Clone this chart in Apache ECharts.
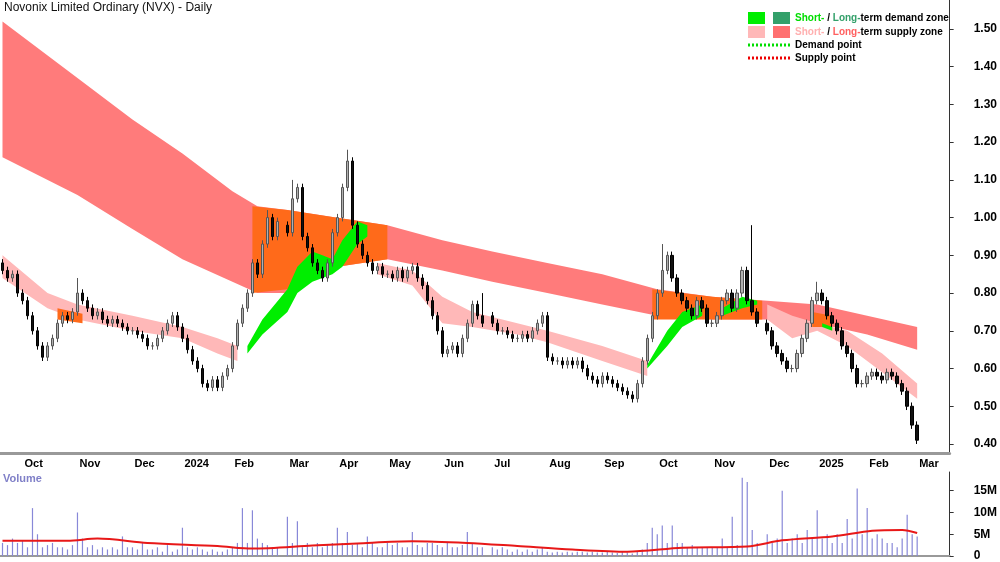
<!DOCTYPE html>
<html><head><meta charset="utf-8">
<script src="https://cdn.jsdelivr.net/npm/echarts@6/dist/echarts.min.js"></script>
<style>html,body{margin:0;padding:0;background:#fff}#c{width:1000px;height:562px}</style>
</head><body><div id="c"></div>
<script>
// ---- data ----
const holidays = ['2023-12-25','2023-12-26','2024-01-01','2024-01-26','2024-03-29','2024-04-01','2024-04-25','2024-06-10','2024-12-25','2024-12-26','2025-01-01','2025-01-27'];
const months = ['2023-09','2023-10','2023-11','2023-12','2024-01','2024-02','2024-03','2024-04','2024-05','2024-06','2024-07','2024-08','2024-09','2024-10','2024-11','2024-12','2025-01','2025-02'];
const closesByMonth = [
 [0.86,0.84,0.85,0.80],
 [0.78,0.74,0.70,0.66,0.63,0.66,0.68,0.72,0.74,0.73,0.75],
 [0.80,0.78,0.76,0.74,0.75,0.73,0.72,0.73,0.72,0.71,0.70],
 [0.70,0.69,0.68,0.66,0.66,0.68,0.70,0.72,0.74,0.71],
 [0.68,0.65,0.62,0.60,0.56,0.55,0.57,0.55,0.58,0.60,0.63],
 [0.66,0.72,0.76,0.80,0.88,0.85,0.93,1.00,0.95,0.99],
 [0.96,1.05,1.08,0.95,0.92,0.88,0.86,0.84,0.88,0.96],
 [1.00,1.08,1.15,0.98,0.93,0.90,0.88,0.86,0.87,0.85,0.84],
 [0.85,0.84,0.86,0.84,0.86,0.87,0.84,0.82,0.78,0.74,0.70,0.66],
 [0.64,0.65,0.66,0.64,0.68,0.72,0.77,0.74,0.72],
 [0.72,0.70,0.70,0.69,0.68,0.68,0.69,0.68,0.70,0.72,0.74,0.72],
 [0.63,0.62,0.62,0.61,0.62,0.61,0.62,0.60,0.58,0.57,0.56],
 [0.58,0.57,0.56,0.55,0.54,0.53,0.52,0.56,0.62,0.68,0.74],
 [0.80,0.86,0.90,0.84,0.80,0.78,0.76,0.74,0.78,0.76,0.72,0.70],
 [0.72,0.74,0.78,0.80,0.76,0.80,0.86,0.78,0.75,0.72],
 [0.70,0.66,0.64,0.62,0.60,0.60,0.64,0.68,0.72,0.78],
 [0.80,0.78,0.74,0.72,0.70,0.66,0.64,0.60,0.56,0.56,0.57],
 [0.58,0.59,0.58,0.57,0.59,0.58,0.56,0.54,0.50,0.45,0.41]
];
const highSpikes = [['2023-11-01',0.84],['2024-02-20',1.02],['2024-03-05',1.10],['2024-04-08',1.18],['2024-06-26',0.80],['2024-10-04',0.93],['2024-11-22',0.98],['2025-01-02',0.83]];
const volumeByMonth = [
 [3,2.5,4,3],
 [3.5,2,11,5,2,2.5,3,2,2,1.5,2.5],
 [10,4,2,2.5,1.5,2,1.5,2,1.5,4.5,2],
 [2,1.5,3,1.5,1.5,2,1,2.5,1,1.5],
 [6.5,2,1.5,2,1.5,1,1.5,1,1,1.5,2],
 [2,3,11,3,10.5,4,3,2.5,2,2],
 [9,3,8,2,3,2,3,2,2.5,3],
 [6.5,3,5.5,2.5,3,2,4.5,3,2,2,2.5],
 [3,2.5,3,2,2,5.5,2.5,2,3,3,2.5,2],
 [2,3,2,2,2.5,5.5,3,2,2],
 [2,1.5,2,1.5,1,1.5,1,1.5,1,1.5,2,1],
 [1,0.8,1,0.8,1,0.8,1,1,0.8,1,0.8],
 [0.8,1,0.8,0.7,1,0.8,0.6,1,1.5,3,6.5],
 [5,7,3,7,3,3,2,2.5,2,2,2,2.5],
 [2,2,4,2,9,2.5,18,17,6,3],
 [5,3,4,15,3,4,5,3,6,4],
 [10.5,4,5,3,5,3,8.5,4,15.5,5,6],
 [11,4,5,4,3,3,2,4,9.5,5,4.5]
];
const volumeMA = [['2023-09-20',3.5],['2023-10-25',3.5],['2023-11-10',4.0],['2023-12-10',3.0],['2024-01-20',2.3],['2024-02-12',1.7],['2024-03-15',2.4],['2024-04-15',2.9],['2024-05-15',3.4],['2024-06-15',3.0],['2024-07-15',2.3],['2024-08-15',1.5],['2024-09-15',1.0],['2024-10-15',1.9],['2024-11-20',2.2],['2024-12-10',3.6],['2025-01-10',4.5],['2025-02-05',5.8],['2025-02-20',6.0],['2025-02-28',5.3]];
const longSupply = [['2023-09-20',1.16,1.52],['2023-11-01',1.06,1.37],['2023-12-01',0.97,1.26],['2024-01-02',0.89,1.17],['2024-02-01',0.83,1.07],['2024-02-15',0.80,1.03],['2024-03-01',0.80,1.02],['2024-04-02',0.87,1.00],['2024-05-01',0.89,0.98],['2024-06-03',0.86,0.94],['2024-07-01',0.83,0.91],['2024-08-01',0.80,0.88],['2024-09-02',0.77,0.85],['2024-10-01',0.74,0.81],['2024-11-01',0.73,0.79],['2024-12-02',0.73,0.78],['2025-01-02',0.72,0.77],['2025-02-03',0.69,0.74],['2025-02-28',0.65,0.71]];
const shortSupplyA = [['2023-09-20',0.84,0.90],['2023-10-16',0.76,0.80],['2023-11-01',0.73,0.77],['2023-12-01',0.70,0.74],['2024-01-02',0.68,0.71],['2024-01-22',0.64,0.68],['2024-02-05',0.62,0.66]];
const shortSupplyB = [['2024-04-25',0.85,0.88],['2024-05-15',0.82,0.86],['2024-06-03',0.72,0.79],['2024-06-20',0.71,0.75],['2024-07-15',0.69,0.72],['2024-08-01',0.67,0.70],['2024-09-02',0.62,0.66],['2024-09-25',0.58,0.62]];
const shortSupplyC = [['2024-12-02',0.73,0.77],['2024-12-16',0.68,0.74],['2025-01-02',0.70,0.72],['2025-01-20',0.66,0.70],['2025-02-10',0.59,0.64],['2025-02-28',0.52,0.56]];
const overlapZones = [
 [['2024-02-12',0.80,1.03],['2024-03-01',0.81,1.02],['2024-04-02',0.87,1.00],['2024-05-01',0.89,0.98]],
 [['2024-09-30',0.73,0.81],['2024-11-01',0.73,0.79],['2024-11-29',0.73,0.78]],
 [['2023-10-20',0.73,0.76],['2023-11-03',0.72,0.745]],
 [['2024-12-30',0.71,0.75],['2025-01-10',0.71,0.74]]
];
const demandZones = [
 [['2024-02-08',0.64,0.66],['2024-02-16',0.69,0.73],['2024-03-01',0.75,0.81],['2024-03-08',0.80,0.87],['2024-03-15',0.83,0.91],['2024-03-22',0.84,0.90],['2024-03-28',0.85,0.89],['2024-04-05',0.87,0.94],['2024-04-12',0.93,0.99],['2024-04-19',0.95,0.98]],
 [['2024-09-26',0.60,0.61],['2024-10-07',0.66,0.70],['2024-10-16',0.71,0.75],['2024-10-28',0.74,0.77]],
 [['2024-11-07',0.74,0.76],['2024-11-18',0.76,0.79],['2024-11-26',0.77,0.78]],
 [['2025-01-06',0.71,0.72],['2025-01-13',0.70,0.71]]
];
const priceTicks = [0.40,0.50,0.60,0.70,0.80,0.90,1.00,1.10,1.20,1.30,1.40,1.50];
const volTicks = [0,5,10,15];

// ---- categories: every other trading day ----
const fmt = d => d.toISOString().slice(0,10);
const cats = [];
{ let d = new Date(Date.UTC(2023,8,20)); let k = 0;
  while (cats.length < 190) { const w = d.getUTCDay(); const s = fmt(d);
    if (w>0 && w<6 && holidays.indexOf(s)<0) { if (k%2===0) cats.push(s); k++; }
    d.setUTCDate(d.getUTCDate()+1); } }
const idxOf = s => { for (let i=0;i<cats.length;i++) if (cats[i]>=s) return i; return cats.length-1; };
const firstOfMonth = m => cats.findIndex(c => c.slice(0,7)===m);

const closes = new Array(cats.length).fill(null), vols = new Array(cats.length).fill(null);
months.forEach((m,mi)=>{ const s = firstOfMonth(m); const st = s<0?0:s;
  closesByMonth[mi].forEach((v,j)=>{ closes[st+j]=v; });
  volumeByMonth[mi].forEach((v,j)=>{ vols[st+j]=v; }); });
const lastIdx = closes.reduce((a,v,i)=>v!=null?i:a,0);
const highs = {}; highSpikes.forEach(([d,h])=>highs[idxOf(d)]=h);
const candles = [];
for (let i=0;i<=lastIdx;i++){ const c = closes[i]; const o = i>0 && closes[i-1]!=null ? closes[i-1] : c+0.02;
  const hi = highs[i]!=null ? Math.max(highs[i],o,c) : Math.max(o,c)+0.01; candles.push([o,c,Math.min(o,c)-0.01,hi]); }
const volData = vols.slice(0,lastIdx+1);
const maData = volumeMA.map(([d,v])=>[idxOf(d),v]);

const monthIdx = new Set(); { let pm=''; cats.forEach((c,i)=>{ const m=c.slice(0,7); if(m!==pm){ if(i>0) monthIdx.add(i); pm=m; } }); }
const mNames = ['Jan','Feb','Mar','Apr','May','Jun','Jul','Aug','Sep','Oct','Nov','Dec'];

function band(pts, color, z){
  return { type:'custom', xAxisIndex:0, yAxisIndex:0, z: z, silent:true, data:[0],
    renderItem:(p,api)=>{ const up=[],lo=[];
      pts.forEach(([d,l,h])=>{ const i=idxOf(d); up.push(api.coord([i,h])); lo.push(api.coord([i,l])); });
      return { type:'polygon', shape:{points: up.concat(lo.reverse())}, style:{fill:color} }; } };
}
const series = [];
series.push(band(longSupply,'#ff7b7b',1));
[shortSupplyA,shortSupplyB,shortSupplyC].forEach(b=>series.push(band(b,'#ffb8b8',2)));
overlapZones.forEach(b=>series.push(band(b,'#ff6a1a',3)));
demandZones.forEach(b=>series.push(band(b,'#00ee00',4)));
series.push({ type:'candlestick', xAxisIndex:0, yAxisIndex:0, z:10, data:candles, barWidth:3,
  itemStyle:{ color:'#b0b0b0', color0:'#111', borderColor:'#555', borderColor0:'#000', borderWidth:1 } });
series.push({ type:'bar', xAxisIndex:1, yAxisIndex:1, data:volData, barWidth:1.2, itemStyle:{color:'#8888d8'} });
series.push({ type:'line', xAxisIndex:1, yAxisIndex:1, data:maData, showSymbol:false, smooth:0.3, lineStyle:{color:'#e81818',width:2} });

const chart = echarts.init(document.getElementById('c'));
const F = 'Liberation Sans';
chart.setOption({
  animation:false,
  textStyle:{fontFamily:F},
  grid:[{left:0,right:46,top:0,bottom:109},{left:0,right:46,top:472,bottom:3}],
  xAxis:[
    { type:'category', gridIndex:0, data:cats, boundaryGap:true,
      axisLine:{lineStyle:{color:'#999',width:3}}, splitLine:{show:false},
      axisTick:{interval:(i)=>monthIdx.has(i), length:4, lineStyle:{color:'#333'}, alignWithLabel:true},
      axisLabel:{interval:(i)=>monthIdx.has(i), align:'left', padding:[0,0,0,2], margin:5, color:'#000', fontSize:11, fontWeight:'bold',
        formatter:(v)=>{ const m=+v.slice(5,7); return m===1? v.slice(0,4) : mNames[m-1]; } } },
    { type:'category', gridIndex:1, data:cats, boundaryGap:true, position:'top',
      axisLine:{lineStyle:{color:'#999',width:2}}, axisTick:{show:false}, axisLabel:{show:false} }
  ],
  yAxis:[
    { type:'value', gridIndex:0, position:'right', min:0.3761, max:1.5769, splitLine:{show:false},
      axisLine:{show:true,lineStyle:{color:'#333'}}, axisTick:{show:true,customValues:priceTicks,length:4,inside:false},
      axisLabel:{customValues:priceTicks, formatter:v=>v.toFixed(2), color:'#000', fontSize:12, fontWeight:'bold', margin:24} },
    { type:'value', gridIndex:1, position:'right', min:0, max:19.3, splitLine:{show:false},
      axisLine:{show:true,lineStyle:{color:'#333'}}, axisTick:{show:true,customValues:volTicks,length:4},
      axisLabel:{customValues:volTicks, formatter:v=>v===0?'0':v+'M', color:'#000', fontSize:12, fontWeight:'bold', margin:24} }
  ],
  graphic:[
    {type:'text', left:4, top:2, style:{text:'Novonix Limited Ordinary (NVX) - Daily', font:'12px '+F, fill:'#111'}},
    {type:'text', left:3, top:473, style:{text:'Volume', font:'bold 11px '+F, fill:'#8080c8'}},
    {type:'rect', shape:{x:748,y:12,width:17,height:12}, style:{fill:'#00ee00'}},
    {type:'rect', shape:{x:773,y:12,width:17,height:12}, style:{fill:'#33a06a'}},
    {type:'text', x:795, y:13, style:{text:'{a|Short-} / {b|Long-}term demand zone', font:'bold 10px '+F, fill:'#000',
      rich:{a:{fill:'#00dd00',font:'bold 10px '+F},b:{fill:'#33a06a',font:'bold 10px '+F}}}},
    {type:'rect', shape:{x:748,y:26,width:17,height:12}, style:{fill:'#ffb8b8'}},
    {type:'rect', shape:{x:773,y:26,width:17,height:12}, style:{fill:'#ff7070'}},
    {type:'text', x:795, y:27, style:{text:'{a|Short-} / {b|Long-}term supply zone', font:'bold 10px '+F, fill:'#000',
      rich:{a:{fill:'#ffb0b0',font:'bold 10px '+F},b:{fill:'#ff6060',font:'bold 10px '+F}}}},
    {type:'line', shape:{x1:748,y1:45,x2:790,y2:45}, style:{stroke:'#00dd00',lineWidth:3,lineDash:[2,2]}},
    {type:'text', x:795, y:40, style:{text:'Demand point', font:'bold 10px '+F, fill:'#000'}},
    {type:'line', shape:{x1:748,y1:58,x2:790,y2:58}, style:{stroke:'#ee0000',lineWidth:3,lineDash:[2,2]}},
    {type:'text', x:795, y:53, style:{text:'Supply point', font:'bold 10px '+F, fill:'#000'}}
  ],
  series: series
});
</script></body></html>
